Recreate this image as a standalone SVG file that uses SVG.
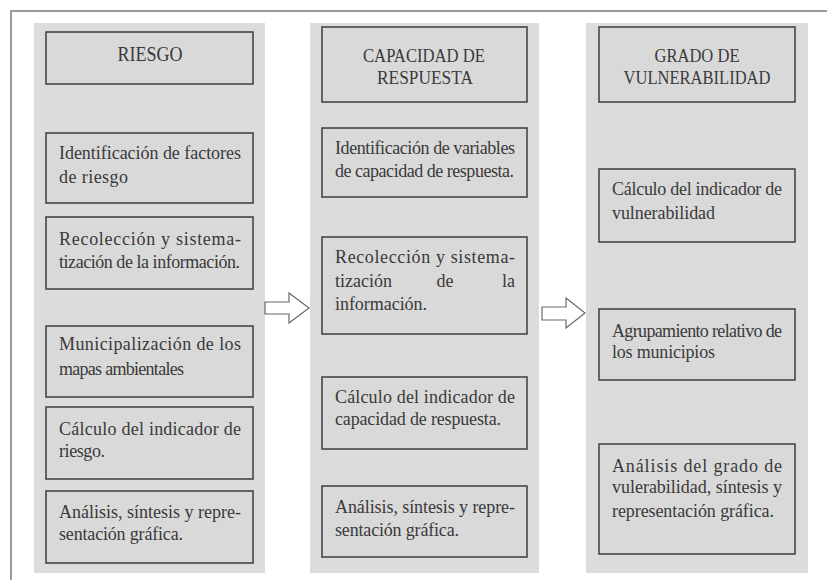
<svg xmlns="http://www.w3.org/2000/svg" width="827" height="580" viewBox="0 0 827 580">
<style>
.frame{fill:none;stroke:#9a9a9a;stroke-width:2}
.col{fill:#dcdcdc}
.box{fill:#d9d9d9;stroke:#3c3c3c;stroke-width:1.5}
.t{font-family:"Liberation Serif","Times New Roman",serif;font-size:18px;fill:#3a3a3a}
.h{font-family:"Liberation Serif","Times New Roman",serif;font-size:19.5px;fill:#3a3a3a;text-anchor:middle}
.arrow{fill:#ffffff;stroke:#6a6a6a;stroke-width:1.2}
</style>
<rect width="827" height="580" fill="#ffffff"/>
<path class="frame" d="M11,580 V11 H827"/>

<g id="col-riesgo">
<rect class="col" x="34" y="23" width="231" height="550"/>
<g id="h-riesgo">
<rect class="box" x="46" y="32" width="207" height="52"/>
<text class="h" x="150" y="61" style="font-size:22px" textLength="65" lengthAdjust="spacingAndGlyphs">RIESGO</text>
</g>
<g id="r1">
<rect class="box" x="46" y="133" width="207" height="70"/>
<text class="t" x="59" y="159" textLength="182">Identificación de factores</text>
<text class="t" x="59" y="183" textLength="69">de riesgo</text>
</g>
<g id="r2">
<rect class="box" x="46" y="217" width="207" height="72"/>
<text class="t" x="59" y="245" textLength="182">Recolección y sistema-</text>
<text class="t" x="59" y="268" textLength="181">tización de la información.</text>
</g>
<g id="r3">
<rect class="box" x="46" y="326" width="207" height="71"/>
<text class="t" x="59" y="350" textLength="182">Municipalización de los</text>
<text class="t" x="59" y="375" textLength="125">mapas ambientales</text>
</g>
<g id="r4">
<rect class="box" x="46" y="407" width="207" height="72"/>
<text class="t" x="59" y="435" textLength="182">Cálculo del indicador de</text>
<text class="t" x="59" y="457" textLength="46">riesgo.</text>
</g>
<g id="r5">
<rect class="box" x="46" y="491" width="207" height="72"/>
<text class="t" x="59" y="518" textLength="182">Análisis, síntesis  y repre-</text>
<text class="t" x="59" y="540" textLength="124">sentación gráfica.</text>
</g>
</g>

<g id="col-capacidad">
<rect class="col" x="310" y="23" width="229" height="550"/>
<g id="h-capacidad">
<rect class="box" x="322" y="27" width="205" height="75"/>
<text class="h" x="424" y="62" textLength="122" lengthAdjust="spacingAndGlyphs">CAPACIDAD DE</text>
<text class="h" x="425" y="84" textLength="96" lengthAdjust="spacingAndGlyphs">RESPUESTA</text>
</g>
<g id="c1">
<rect class="box" x="322" y="128" width="205" height="69"/>
<text class="t" x="335" y="154" textLength="180">Identificación de variables</text>
<text class="t" x="335" y="177" textLength="179">de capacidad de respuesta.</text>
</g>
<g id="c2">
<rect class="box" x="322" y="237" width="205" height="97"/>
<text class="t" x="335" y="263" textLength="180">Recolección y sistema-</text>
<text class="t" x="335" y="287">tización</text>
<text class="t" x="445" y="287" text-anchor="middle">de</text>
<text class="t" x="515" y="287" text-anchor="end">la</text>
<text class="t" x="335" y="310" textLength="92">información.</text>
</g>
<g id="c3">
<rect class="box" x="322" y="377" width="205" height="72"/>
<text class="t" x="335" y="403" textLength="180">Cálculo del indicador de</text>
<text class="t" x="335" y="425" textLength="166">capacidad de respuesta.</text>
</g>
<g id="c4">
<rect class="box" x="322" y="486" width="205" height="71"/>
<text class="t" x="335" y="513" textLength="180">Análisis, síntesis  y repre-</text>
<text class="t" x="335" y="536" textLength="124">sentación gráfica.</text>
</g>
</g>

<g id="col-vulnerabilidad">
<rect class="col" x="586" y="23" width="222" height="550"/>
<g id="h-vulnerabilidad">
<rect class="box" x="599" y="27" width="196" height="75"/>
<text class="h" x="697" y="62" textLength="85" lengthAdjust="spacingAndGlyphs">GRADO DE</text>
<text class="h" x="697" y="84" textLength="147" lengthAdjust="spacingAndGlyphs">VULNERABILIDAD</text>
</g>
<g id="v1">
<rect class="box" x="599" y="169" width="196" height="73"/>
<text class="t" x="612" y="195" textLength="170">Cálculo del indicador de</text>
<text class="t" x="612" y="219" textLength="103">vulnerabilidad</text>
</g>
<g id="v2">
<rect class="box" x="599" y="309" width="196" height="71"/>
<text class="t" x="612" y="337" textLength="170">Agrupamiento relativo de</text>
<text class="t" x="612" y="358" textLength="103">los municipios</text>
</g>
<g id="v3">
<rect class="box" x="599" y="444" width="196" height="110"/>
<text class="t" x="612" y="472" textLength="170">Análisis del grado de</text>
<text class="t" x="612" y="493" textLength="170">vulerabilidad, síntesis y</text>
<text class="t" x="612" y="517" textLength="162">representación gráfica.</text>
</g>
</g>

<g id="connectors">
<polygon id="a1" class="arrow" points="265,302 289,302 289,293 309,308 289,323 289,314 265,314"/>
<polygon id="a2" class="arrow" points="542,307 566,307 566,298 585,313 566,328 566,320 542,320"/>
</g>
</svg>
